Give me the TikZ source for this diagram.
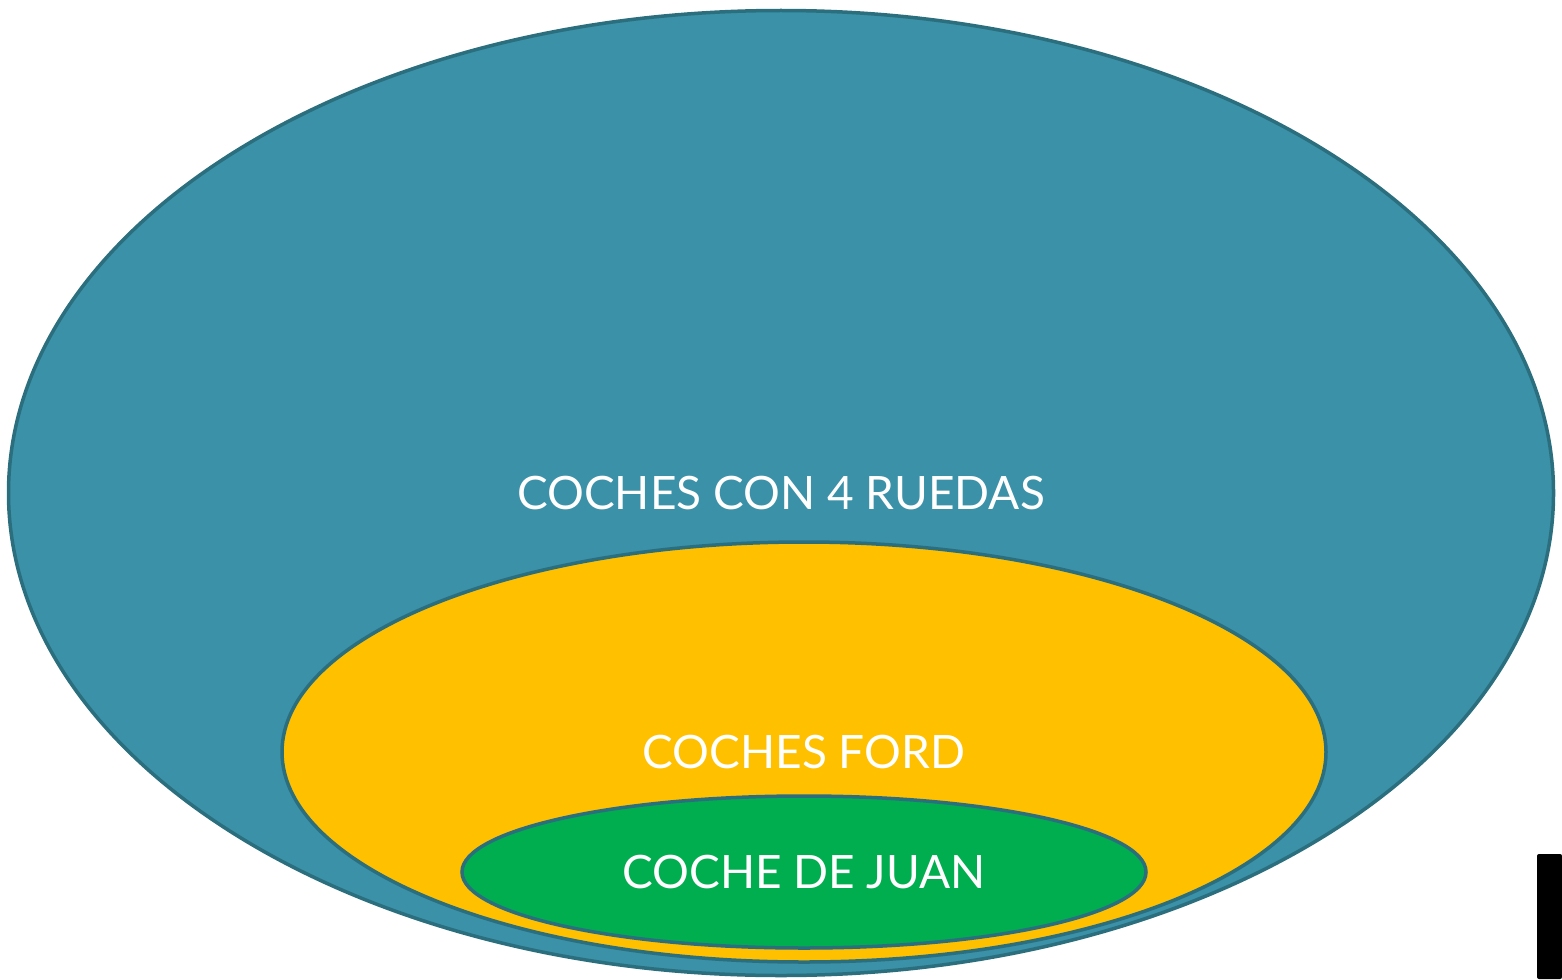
\documentclass[tikz,border=0pt]{standalone}
\usepackage{fontspec}
\setmainfont{Lato}
\usetikzlibrary{shapes.geometric}
\definecolor{borde}{HTML}{2B6E7D}
\definecolor{ruedas}{HTML}{3A91A8}
\definecolor{ford}{HTML}{FFC000}
\definecolor{juan}{HTML}{00AE50}
\begin{document}
\begin{tikzpicture}[x=1pt, y=-1pt,
			every node/.style = {shape=ellipse, draw=borde, line width=3.5pt,
				inner sep=0pt, outer sep=0pt, text=white,
	font=\fontsize{46}{50}\selectfont}]
	\useasboundingbox (0,0) rectangle (1562,979);
	\node[fill=ruedas, minimum width=1545, minimum height=965] (ruedas) at (781,493) {COCHES CON 4 RUEDAS};
	\node[fill=ford, minimum width=1044, minimum height=420] (ford) at (804,752) {COCHES FORD};
	\node[fill=juan, minimum width=684, minimum height=152] (juan) at (804,872) {COCHE DE JUAN};
	\fill[black, rounded corners=2pt] (1537,979) -- (1537,854) -- (1562,854) -- (1562,979) -- cycle;
\end{tikzpicture}
\end{document}
